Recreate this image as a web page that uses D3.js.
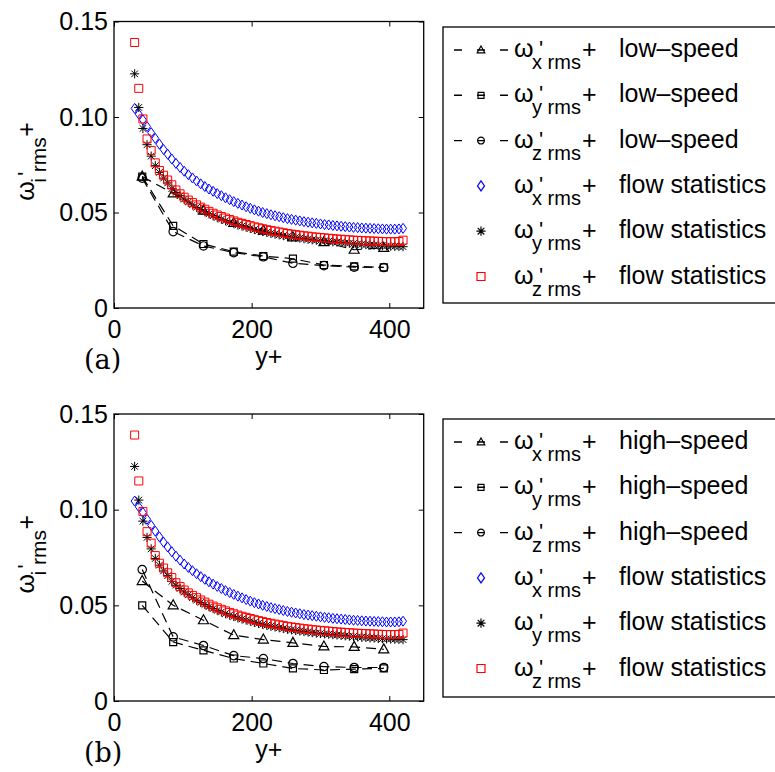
<!DOCTYPE html>
<html><head><meta charset="utf-8">
<script src="https://cdn.jsdelivr.net/npm/d3@7"></script>
<style>
body{margin:0;background:#fff}
svg{display:block}
text{fill:#000}
</style>
</head><body>
<svg id="c" width="775" height="772" font-family="'Liberation Sans',Arial,Helvetica,sans-serif"></svg>
<script>
// ---------- data ----------
const xTicks = [0, 200, 400];
const yTicks = [0, 0.05, 0.10, 0.15];
const yTickLabels = ["0", "0.05", "0.10", "0.15"];

// wall-normal positions of the flow-statistics profiles (y+)
const xGrid = [30,36,42,48,54,60,66,72,78,84,90,96,102,108,114,120,126,132,138,144,150,156,162,168,174,180,186,192,198,204,210,216,222,228,234,240,246,252,258,264,270,276,282,288,294,300,306,312,318,324,330,336,342,348,354,360,366,372,378,384,390,396,402,408,414,420];
// flow statistics (same in both panels)
const wxFlow = [0.1045,0.1015,0.0985,0.0950,0.0918,0.0888,0.0858,0.0830,0.0805,0.0780,0.0757,0.0736,0.0716,0.0698,0.0681,0.0665,0.0650,0.0636,0.0623,0.0611,0.0599,0.0588,0.0577,0.0567,0.0557,0.0548,0.0539,0.0530,0.0522,0.0514,0.0507,0.0500,0.0494,0.0488,0.0483,0.0478,0.0473,0.0468,0.0464,0.0460,0.0456,0.0452,0.0449,0.0446,0.0443,0.0440,0.0437,0.0435,0.0432,0.0430,0.0428,0.0426,0.0424,0.0422,0.0421,0.0419,0.0418,0.0417,0.0416,0.0415,0.0414,0.0413,0.0413,0.0413,0.0414,0.0417];
const wyFlow = [0.1226,0.1050,0.0940,0.0855,0.0795,0.0745,0.0710,0.0680,0.0655,0.0625,0.0605,0.0588,0.0570,0.0555,0.0540,0.0527,0.0515,0.0504,0.0493,0.0483,0.0474,0.0465,0.0457,0.0449,0.0442,0.0435,0.0429,0.0423,0.0417,0.0411,0.0406,0.0401,0.0396,0.0391,0.0387,0.0383,0.0379,0.0375,0.0372,0.0369,0.0366,0.0363,0.0360,0.0357,0.0355,0.0353,0.0351,0.0349,0.0347,0.0345,0.0343,0.0341,0.0339,0.0337,0.0335,0.0333,0.0332,0.0330,0.0329,0.0327,0.0326,0.0325,0.0324,0.0323,0.0322,0.0321];
const wzFlow = [0.1390,0.1150,0.0990,0.0885,0.0825,0.0760,0.0720,0.0695,0.0670,0.0645,0.0618,0.0598,0.0580,0.0565,0.0552,0.0540,0.0528,0.0517,0.0506,0.0496,0.0487,0.0479,0.0471,0.0463,0.0456,0.0449,0.0443,0.0437,0.0431,0.0425,0.0420,0.0415,0.0410,0.0406,0.0402,0.0398,0.0394,0.0390,0.0387,0.0384,0.0381,0.0378,0.0376,0.0373,0.0371,0.0369,0.0367,0.0365,0.0363,0.0361,0.0360,0.0358,0.0357,0.0355,0.0354,0.0353,0.0352,0.0351,0.0350,0.0349,0.0348,0.0347,0.0347,0.0347,0.0348,0.0355];

// conditional (low-/high-speed) profiles
const xSpeed = [41, 86, 130, 174, 217, 260, 305, 349, 392];
const wxLow  = [0.0688,0.0600,0.0510,0.0445,0.0405,0.0370,0.0345,0.0305,0.0315];
const wyLow  = [0.0688,0.0430,0.0335,0.0295,0.0272,0.0258,0.0225,0.0218,0.0213];
const wzLow  = [0.0680,0.0400,0.0325,0.0290,0.0268,0.0234,0.0222,0.0214,0.0212];
const wxHigh = [0.0627,0.0500,0.0422,0.0344,0.0321,0.0304,0.0285,0.0283,0.0270];
const wyHigh = [0.0500,0.0308,0.0265,0.0222,0.0196,0.0170,0.0162,0.0167,0.0170];
const wzHigh = [0.0687,0.0335,0.0290,0.0237,0.0222,0.0196,0.0180,0.0175,0.0175];

const legendSubs = ["x rms", "y rms", "z rms", "x rms", "y rms", "z rms"];
const panelSpeedLabels = ["low\u2013speed", "high\u2013speed"];
const flowLabel = "flow statistics";
const panelTags = ["(a)", "(b)"];
const xLabel = "y+";

// ---------- drawing ----------
const SANS = "'Liberation Sans',Arial,Helvetica,sans-serif";
const SERIF = "'DejaVu Serif','Liberation Serif',serif";
const svg = d3.select("#c");
const left = 114, right = 423.7;
const x = d3.scaleLinear().domain([0, 450]).range([left, right]);

const markerPaths = {
  tri: "M0,-5.5L5,3.5L-5,3.5Z",
  sqk: "M-3.5,-3.5h7v7h-7Z",
  circ: d3.arc()({innerRadius:0, outerRadius:4.2, startAngle:0, endAngle:2*Math.PI}),
  diam: "M0,-5L3.5,0L0,5L-3.5,0Z",
  star: "M-4.6,0L4.6,0M0,-4.6L0,4.6M-3.3,-3.3L3.3,3.3M-3.3,3.3L3.3,-3.3",
  sqr: "M-4,-4h8v8h-8Z"
};
const legendMarkerPaths = {
  tri: "M0,-4L3.8,2.8L-3.8,2.8Z",
  sqk: "M-3,-3h6v6h-6Z",
  circ: d3.arc()({innerRadius:0, outerRadius:3.4, startAngle:0, endAngle:2*Math.PI}),
  diam: "M0,-5L3.5,0L0,5L-3.5,0Z",
  star: "M-4.6,0L4.6,0M0,-4.6L0,4.6M-3.3,-3.3L3.3,3.3M-3.3,3.3L3.3,-3.3",
  sqr: "M-4,-4h8v8h-8Z"
};

const panels = [
  {top: 21.5, bottom: 308, cond: [wxLow, wyLow, wzLow], legTop: 27, legBottom: 303},
  {top: 414, bottom: 701, cond: [wxHigh, wyHigh, wzHigh], legTop: 419, legBottom: 697}
];

// one <text> holding omega, prime, subscript and "+" as positioned tspans
function omegaLabel(parent, x0, base, sub, subSize) {
  const t = parent.append("text").attr("x", x0).attr("y", base);
  t.append("tspan").attr("x", x0).attr("y", base).attr("font-size", 25).text("\u03c9");
  t.append("tspan").attr("x", x0 + 25).attr("y", base - 1).attr("font-size", 22).text("'");
  t.append("tspan").attr("x", x0 + 18).attr("y", base + 12).attr("font-size", subSize).text(sub);
  const subW = sub.length > 4 && sub[0] === "i" ? 46 : 50;
  t.append("tspan").attr("x", x0 + 18 + subW).attr("y", base + 1).attr("font-size", 25).text("+");
  return t;
}

panels.forEach((p, pi) => {
  const y = d3.scaleLinear().domain([0, 0.15]).range([p.bottom, p.top]);
  const g = svg.append("g");

  // frame
  g.append("rect").attr("x", left).attr("y", p.top).attr("width", right - left)
    .attr("height", p.bottom - p.top).attr("fill", "none").attr("stroke", "#000").attr("stroke-width", 1.3);

  const styleAxis = sel => {
    sel.attr("font-family", SANS).attr("font-size", 25);
    sel.select(".domain").remove();
    sel.selectAll("line").attr("stroke", "#000").attr("stroke-width", 1);
    sel.selectAll("text").attr("fill", "#000");
  };
  g.append("g").attr("transform", `translate(0,${p.bottom})`)
    .call(d3.axisBottom(x).tickValues(xTicks).tickSize(-5).tickPadding(12).tickFormat(d3.format("d")))
    .call(styleAxis);
  g.append("g").attr("transform", `translate(0,${p.top})`)
    .call(d3.axisTop(x).tickValues(xTicks).tickSize(-5).tickFormat(""))
    .call(styleAxis);
  g.append("g").attr("transform", `translate(${left},0)`)
    .call(d3.axisLeft(y).tickValues(yTicks).tickSize(-5).tickPadding(6).tickFormat((d, i) => yTickLabels[i]))
    .call(styleAxis);
  g.append("g").attr("transform", `translate(${right},0)`)
    .call(d3.axisRight(y).tickValues(yTicks).tickSize(-5).tickFormat(""))
    .call(styleAxis);

  // conditional dashed series
  const condMarkers = ["tri", "sqk", "circ"];
  const line = d3.line().x(d => x(d[0])).y(d => y(d[1]));
  p.cond.forEach((vals, si) => {
    const pts = xSpeed.map((xv, i) => [xv, vals[i]]);
    g.append("path").attr("d", line(pts)).attr("fill", "none").attr("stroke", "#000")
      .attr("stroke-width", 1.2).attr("stroke-dasharray", "10,6");
    g.selectAll(null).data(pts).enter().append("path")
      .attr("transform", d => `translate(${x(d[0])},${y(d[1])})`)
      .attr("d", markerPaths[condMarkers[si]])
      .attr("fill", "none").attr("stroke", "#000").attr("stroke-width", 1.2);
  });

  // flow statistics
  const flows = [
    {vals: wxFlow, m: "diam", c: "#0000ff"},
    {vals: wyFlow, m: "star", c: "#000000"},
    {vals: wzFlow, m: "sqr", c: "#ff0000"}
  ];
  flows.forEach(f => {
    const pts = xGrid.map((xv, i) => [xv, f.vals[i]]);
    g.selectAll(null).data(pts).enter().append("path")
      .attr("transform", d => `translate(${x(d[0])},${y(d[1])})`)
      .attr("d", markerPaths[f.m])
      .attr("fill", "none").attr("stroke", f.c).attr("stroke-width", 1);
  });

  // axis labels
  g.append("text").attr("x", (left + right) / 2).attr("y", p.bottom + 57)
    .attr("text-anchor", "middle").attr("font-size", 25).text(xLabel);
  g.append("text").attr("x", 84).attr("y", p.bottom + 61)
    .attr("font-family", SERIF).attr("font-size", 27).text(panelTags[pi]);
  const yl = g.append("g")
    .attr("transform", `translate(33.5,${p.top + (p.bottom - p.top) / 2 + 36}) rotate(-90)`);
  omegaLabel(yl, 0, 0, "i rms", 21);

  // legend
  const lg = svg.append("g");
  lg.append("rect").attr("x", 443).attr("y", p.legTop).attr("width", 400)
    .attr("height", p.legBottom - p.legTop).attr("fill", "#fff").attr("stroke", "#000").attr("stroke-width", 1.3);
  const legMarkers = ["tri", "sqk", "circ", "diam", "star", "sqr"];
  const legColors = ["#000", "#000", "#000", "#0000ff", "#000", "#ff0000"];
  legMarkers.forEach((m, i) => {
    const ry = p.legTop + 23 + i * 45.3;
    if (i < 3) {
      lg.append("line").attr("x1", 454).attr("x2", 508).attr("y1", ry).attr("y2", ry)
        .attr("stroke", "#000").attr("stroke-width", 1.4).attr("stroke-dasharray", "8,15");
    }
    lg.append("path").attr("transform", `translate(481,${ry})`).attr("d", legendMarkerPaths[m])
      .attr("fill", "none").attr("stroke", legColors[i]).attr("stroke-width", 1.2);
    omegaLabel(lg, 514, ry + 7, legendSubs[i], 20);
    lg.append("text").attr("x", 619).attr("y", ry + 7).attr("font-size", 25)
      .text(i < 3 ? panelSpeedLabels[pi] : flowLabel);
  });
});
</script>
</body></html>
